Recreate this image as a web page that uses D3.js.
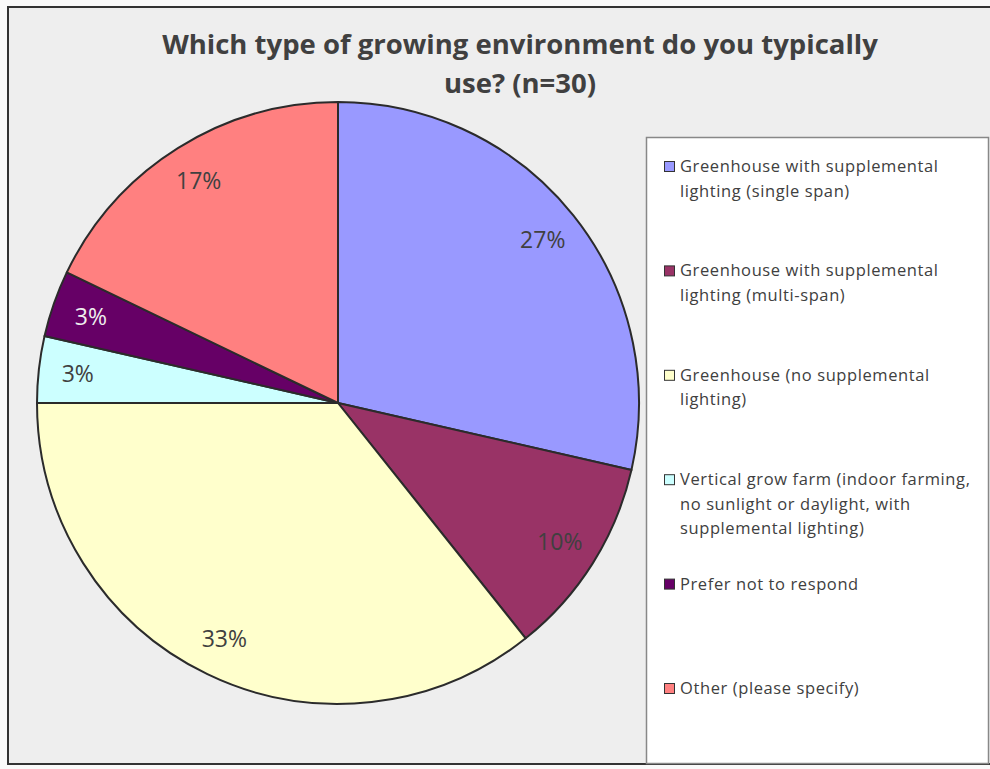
<!DOCTYPE html>
<html>
<head>
<meta charset="utf-8">
<script src="https://cdn.jsdelivr.net/npm/d3@7"></script>
<style>
  html, body { margin: 0; padding: 0; background: #fafafa; }
  svg { display: block; }
</style>
</head>
<body>
<svg id="chart" width="990" height="769"></svg>
<script>
// Survey responses: count of respondents per growing environment (n = 30)
const categories = [
  "Greenhouse with supplemental lighting (single span)",
  "Greenhouse with supplemental lighting (multi-span)",
  "Greenhouse (no supplemental lighting)",
  "Vertical grow farm (indoor farming, no sunlight or daylight, with supplemental lighting)",
  "Prefer not to respond",
  "Other (please specify)"
];
const counts = [8, 3, 10, 1, 1, 5];
const respondents = 30;
const colors = ["#9999FF", "#993366", "#FFFFCC", "#CCFFFF", "#660066", "#FF8080"];
const labelColors = ["#404040", "#404040", "#404040", "#404040", "#EEEEEE", "#404040"];
// Legend text broken into lines as it wraps inside the legend box
const legendLines = [
  ["Greenhouse with supplemental", "lighting (single span)"],
  ["Greenhouse with supplemental", "lighting (multi-span)"],
  ["Greenhouse (no supplemental", "lighting)"],
  ["Vertical grow farm (indoor farming,", "no sunlight or daylight, with", "supplemental lighting)"],
  ["Prefer not to respond"],
  ["Other (please specify)"]
];
const titleLines = ["Which type of growing environment do you typically", "use? (n=30)"];

const svg = d3.select("#chart");
const textColor = "#404040";
const fontFamily = "'Open Sans', 'DejaVu Sans', sans-serif";

// Chart area frame
svg.append("rect")
  .attr("x", 8).attr("y", 7)
  .attr("width", 1040).attr("height", 757)
  .attr("fill", "#EEEEEE")
  .attr("stroke", "#333").attr("stroke-width", 2);

// Title
svg.append("g").selectAll("text")
  .data(titleLines)
  .join("text")
  .attr("x", 520)
  .attr("y", (d, i) => 54 + i * 39)
  .attr("text-anchor", "middle")
  .attr("font-family", fontFamily)
  .attr("font-weight", "bold")
  .attr("font-size", 27.5)
  .attr("fill", textColor)
  .text(d => d);

// Pie
const cx = 338, cy = 403, radius = 301;
const pie = d3.pie().sort(null).value(d => d)(counts);
const arc = d3.arc().innerRadius(0).outerRadius(radius);
const labelArc = d3.arc().innerRadius(radius * 0.87).outerRadius(radius * 0.87);
const fmt = d3.format(".0%");

const g = svg.append("g").attr("transform", `translate(${cx},${cy})`);
g.selectAll("path")
  .data(pie)
  .join("path")
  .attr("d", arc)
  .attr("fill", (d, i) => colors[i])
  .attr("stroke", "#2b2b2b")
  .attr("stroke-width", 2)
  .attr("stroke-linejoin", "round");

g.selectAll("text.val")
  .data(pie)
  .join("text")
  .attr("class", "val")
  .attr("transform", d => `translate(${labelArc.centroid(d)})`)
  .attr("text-anchor", "middle")
  .attr("dy", "0.35em")
  .attr("font-family", fontFamily)
  .attr("font-size", 23)
  .attr("fill", (d, i) => labelColors[i])
  .text(d => fmt(d.data / respondents));

// Legend
const legend = svg.append("g");
legend.append("rect")
  .attr("x", 646.5).attr("y", 137.5)
  .attr("width", 342).attr("height", 626)
  .attr("fill", "#FFFFFF")
  .attr("stroke", "#888").attr("stroke-width", 1.5);

const itemY = d3.scaleLinear().domain([0, categories.length - 1]).range([161, 683]);
const items = legend.selectAll("g.item")
  .data(categories)
  .join("g")
  .attr("class", "item")
  .attr("transform", (d, i) => `translate(664,${itemY(i)})`);

items.append("rect")
  .attr("x", 0.5).attr("y", 0.5)
  .attr("width", 10).attr("height", 10)
  .attr("fill", (d, i) => colors[i])
  .attr("stroke", "#333").attr("stroke-width", 1);

items.append("text")
  .attr("font-family", fontFamily)
  .attr("font-size", 16.5)
  .attr("letter-spacing", 0.6)
  .attr("fill", textColor)
  .selectAll("tspan")
  .data((d, i) => legendLines[i])
  .join("tspan")
  .attr("x", 16)
  .attr("y", (d, j) => 11 + j * 24.5)
  .text(d => d);
</script>
</body>
</html>
